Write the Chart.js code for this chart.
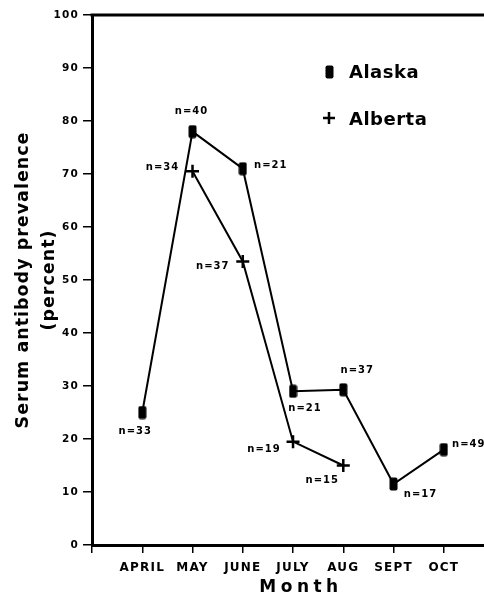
<!DOCTYPE html>
<html>
<head>
<meta charset="utf-8">
<script src="https://cdn.jsdelivr.net/npm/chart.js@4"></script>
<style>
  html, body { margin: 0; padding: 0; background: #fff; overflow: hidden; }
  #wrap { width: 484px; height: 596px; position: relative; }
  #prevChart { display: block; }
</style>
</head>
<body>
<div id="wrap"><canvas id="prevChart"></canvas></div>
<script>
// data
const months = ['APRIL', 'MAY', 'JUNE', 'JULY', 'AUG', 'SEPT', 'OCT'];
const alaskaValues = [25, 78, 71, 29, 29.3, 11.5, 18];
const albertaValues = [null, 70.5, 53.5, 19.5, 15, null, null];
const alaskaN = [33, 40, 21, 21, 37, 17, 49];
const albertaN = [null, 34, 37, 19, 15, null, null];
const yTicks = [0, 10, 20, 30, 40, 50, 60, 70, 80, 90, 100];

const FONT = '"DejaVu Sans", sans-serif';

// where each n= label sits relative to its point
const alaskaLabelPos = [[-7, 19], [-1, -20], [28, -3], [12, 17], [14, -19], [27, 10], [25, -5]];
const albertaLabelPos = [null, [-30, -4], [-30, 5], [-29, 8], [-21, 15], null, null];

function toPoints(values) {
    return values.map((v, i) => (v === null ? null : { x: i + 1, y: v })).filter(p => p);
}

// tall rounded block used for Alaska
const alaskaMark = document.createElement('canvas');
alaskaMark.width = 9;
alaskaMark.height = 14;
const mctx = alaskaMark.getContext('2d');
mctx.fillStyle = '#000';
mctx.beginPath();
mctx.roundRect(0.5, 0.5, 8, 13, 2);
mctx.fill();

const annotations = {
    id: 'annotations',
    beforeDraw(chart) {
        chart.ctx.letterSpacing = '1.2px';
    },
    afterDraw(chart) {
        const ctx = chart.ctx;
        const area = chart.chartArea;
        ctx.save();

        // top frame line
        ctx.strokeStyle = '#000';
        ctx.lineWidth = 3;
        ctx.beginPath();
        ctx.moveTo(area.left - 1.5, area.top);
        ctx.lineTo(area.right, area.top);
        ctx.stroke();

        ctx.fillStyle = '#000';

        // n= labels
        ctx.font = 'bold 10px ' + FONT;
        ctx.letterSpacing = '1px';
        ctx.textAlign = 'center';
        ctx.textBaseline = 'middle';
        const drawN = (metaIndex, counts, offsets) => {
            const pts = chart.getDatasetMeta(metaIndex).data;
            let k = 0;
            counts.forEach((n, i) => {
                if (n === null) return;
                const p = pts[k++];
                const o = offsets[i];
                ctx.fillText('n=' + n, p.x + o[0], p.y + o[1]);
            });
        };
        drawN(0, alaskaN, alaskaLabelPos);
        drawN(1, albertaN, albertaLabelPos);

        // legend
        ctx.drawImage(alaskaMark, 325, 65);
        ctx.lineWidth = 2.5;
        ctx.beginPath();
        ctx.moveTo(323, 118); ctx.lineTo(335, 118);
        ctx.moveTo(329, 112); ctx.lineTo(329, 124);
        ctx.stroke();
        ctx.font = 'bold 18px ' + FONT;
        ctx.letterSpacing = '0.5px';
        ctx.textAlign = 'left';
        ctx.textBaseline = 'alphabetic';
        ctx.fillText('Alaska', 349, 78);
        ctx.fillText('Alberta', 349, 125);

        // x title
        ctx.font = 'bold 17px ' + FONT;
        ctx.letterSpacing = '4.5px';
        ctx.textAlign = 'center';
        ctx.fillText('Month', 301, 592);

        // y title
        ctx.font = 'bold 17.5px ' + FONT;
        ctx.letterSpacing = '1px';
        ctx.translate(0, 280);
        ctx.rotate(-Math.PI / 2);
        ctx.fillText('Serum antibody prevalence', 0, 28);
        ctx.fillText('(percent)', 0, 54);

        ctx.restore();
    }
};

const ctx = document.getElementById('prevChart').getContext('2d');

new Chart(ctx, {
    type: 'line',
    data: {
        datasets: [
            {
                label: 'Alaska',
                data: toPoints(alaskaValues),
                borderColor: '#000',
                borderWidth: 2,
                pointStyle: alaskaMark,
                pointRadius: 6,
                tension: 0
            },
            {
                label: 'Alberta',
                data: toPoints(albertaValues),
                borderColor: '#000',
                borderWidth: 2,
                pointStyle: 'cross',
                pointRadius: 6.5,
                pointBorderWidth: 2.5,
                pointBorderColor: '#000',
                tension: 0
            }
        ]
    },
    options: {
        responsive: true,
        maintainAspectRatio: false,
        animation: false,
        layout: {
            autoPadding: false,
            padding: { top: 15, right: 0, left: 0, bottom: 0 }
        },
        scales: {
            x: {
                type: 'linear',
                min: 0,
                max: 7.8,
                afterFit: scale => {
                    scale.height = 51;
                    scale.paddingLeft = 0;
                    scale.paddingRight = 0;
                },
                afterBuildTicks: scale => {
                    scale.ticks = scale.ticks.filter(t => Number.isInteger(t.value));
                },
                ticks: {
                    stepSize: 1,
                    includeBounds: false,
                    autoSkip: false,
                    maxRotation: 0,
                    padding: 8,
                    color: '#000',
                    font: { family: FONT, size: 12, weight: 'bold' },
                    callback: value => months[value - 1] || ''
                },
                grid: {
                    drawOnChartArea: false,
                    drawTicks: true,
                    tickLength: 8,
                    lineWidth: 1.5,
                    color: '#000'
                },
                border: { display: true, width: 3, color: '#000' }
            },
            y: {
                min: 0,
                max: 100,
                afterFit: scale => { scale.width = 92; },
                afterBuildTicks: scale => {
                    scale.ticks = yTicks.map(v => ({ value: v }));
                },
                ticks: {
                    padding: 4,
                    color: '#000',
                    font: { family: FONT, size: 10.5, weight: 'bold' }
                },
                grid: {
                    drawOnChartArea: false,
                    drawTicks: true,
                    tickLength: 9,
                    lineWidth: 1.5,
                    color: '#000'
                },
                border: { display: true, width: 3, color: '#000' }
            }
        },
        plugins: {
            legend: { display: false },
            tooltip: { enabled: false }
        }
    },
    plugins: [annotations]
});
</script>
</body>
</html>
